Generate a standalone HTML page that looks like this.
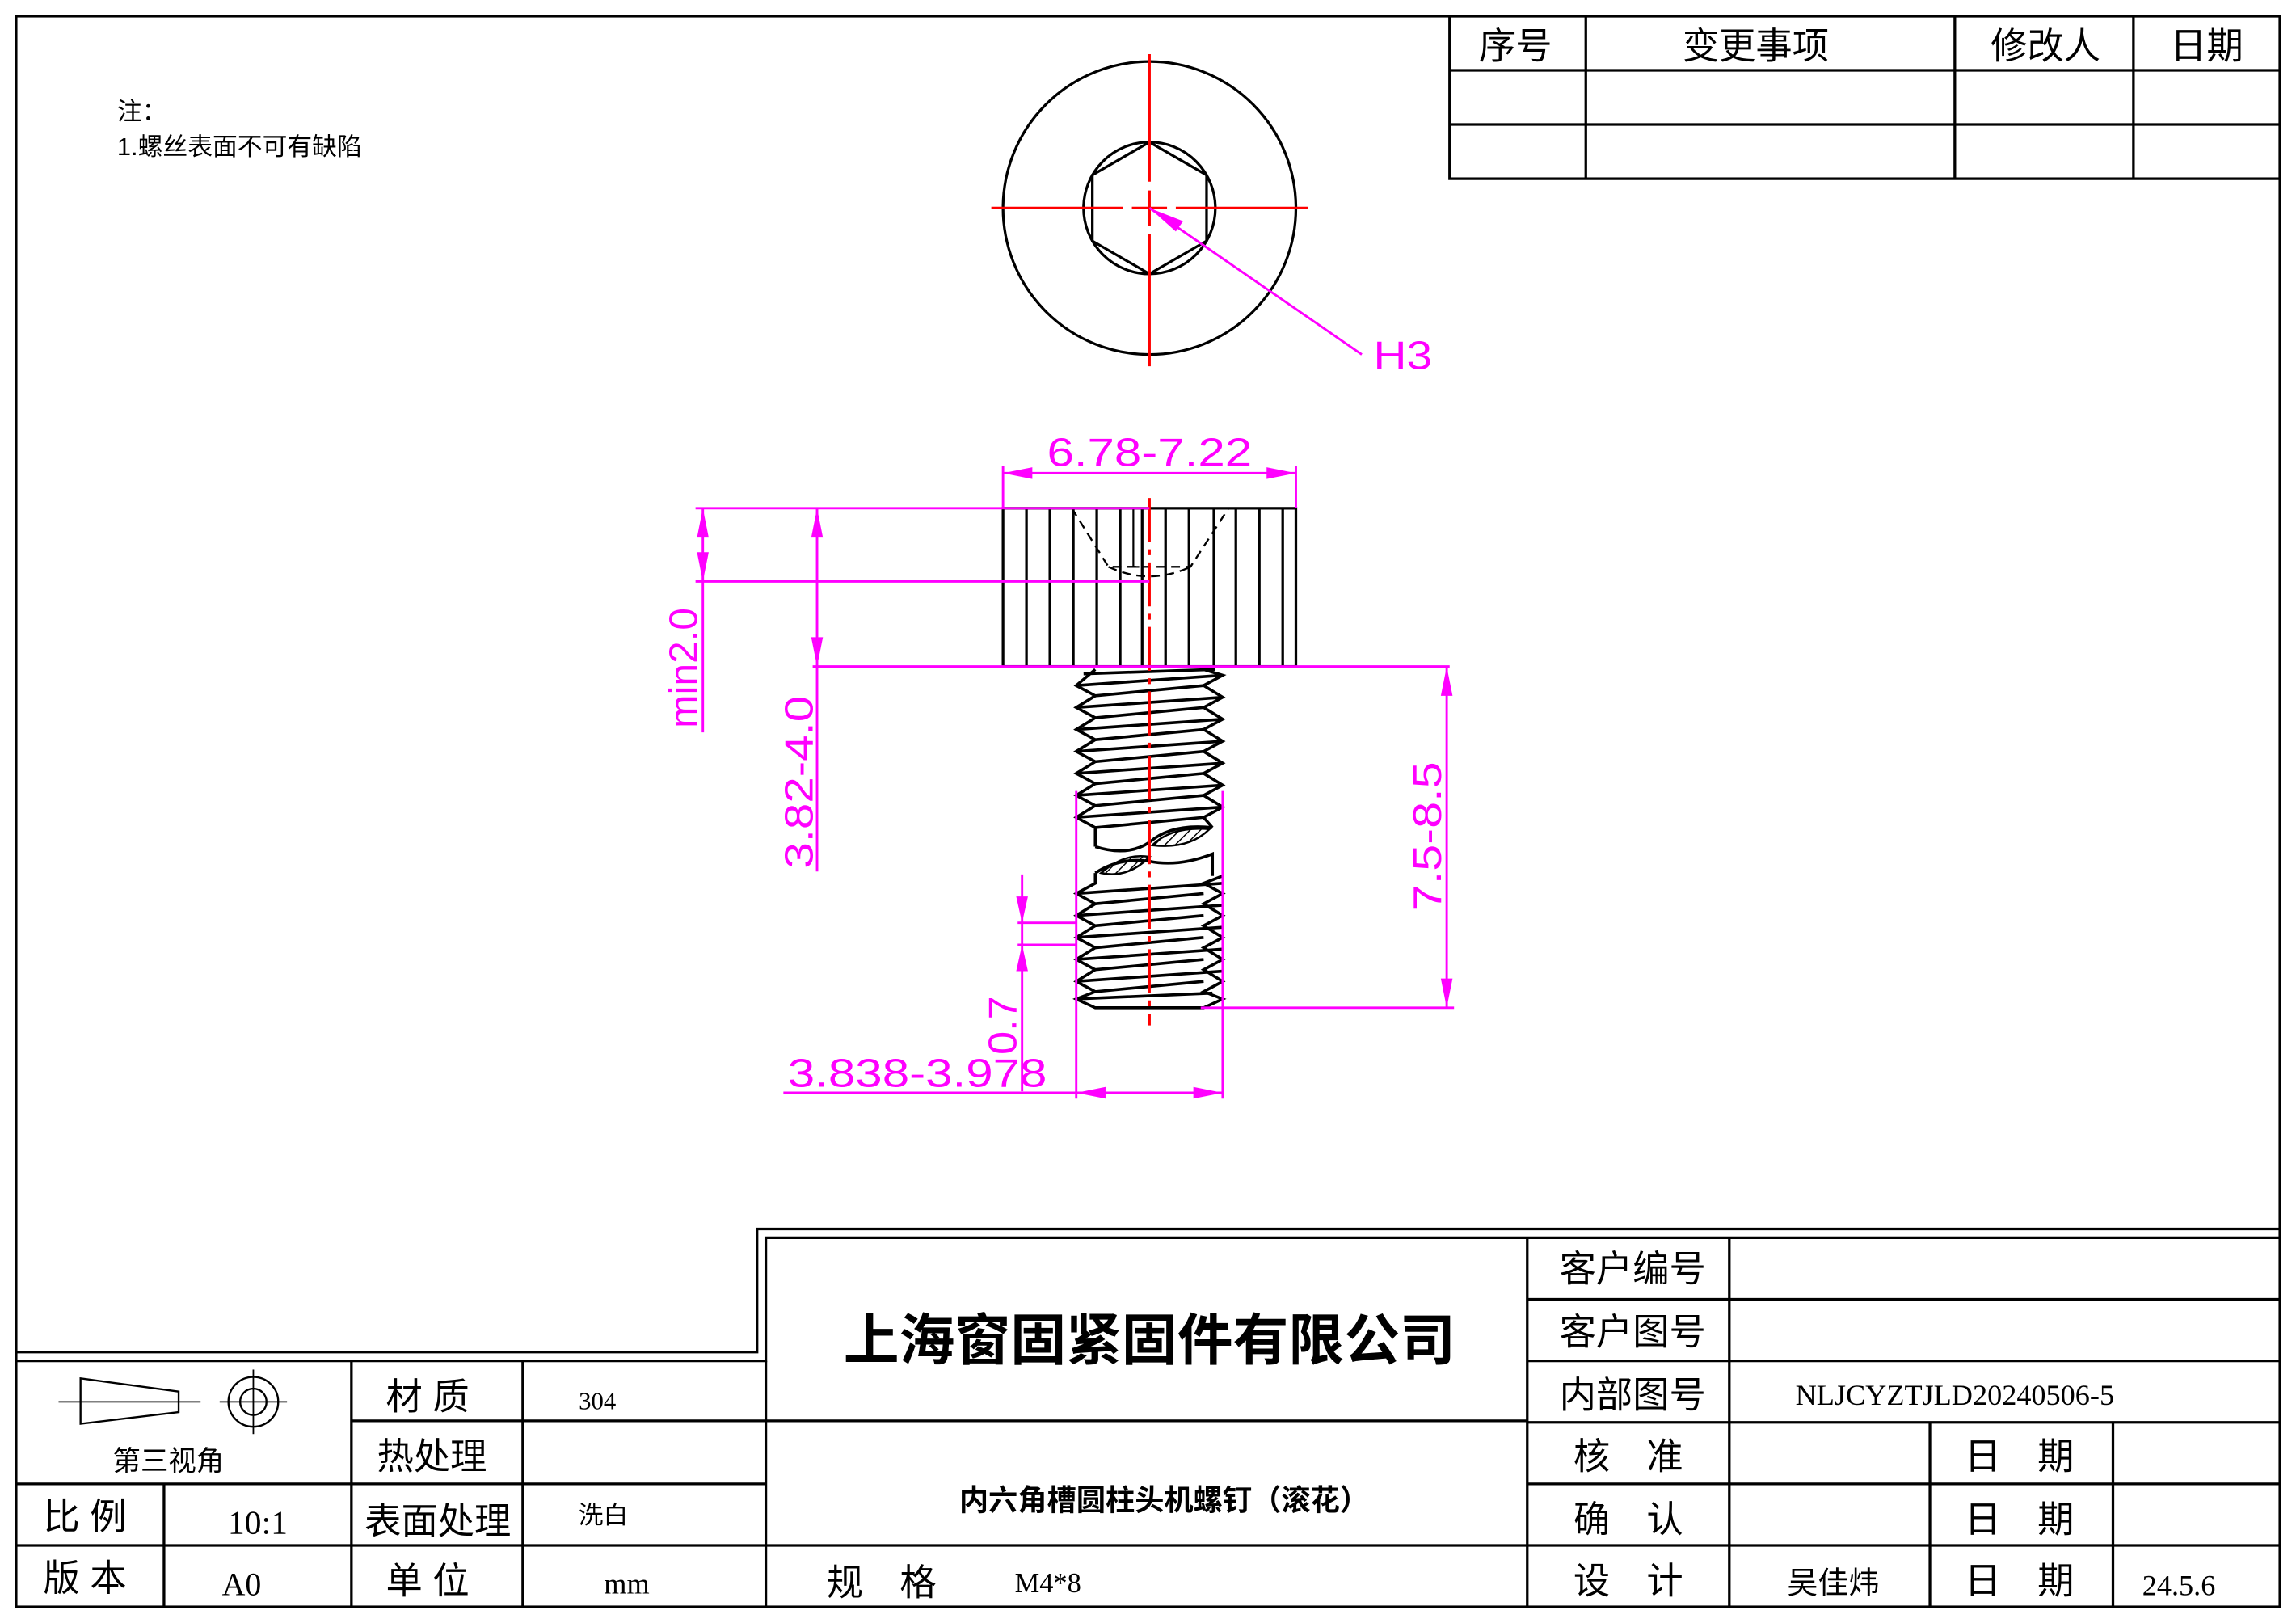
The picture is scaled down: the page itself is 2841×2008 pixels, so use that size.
<!DOCTYPE html>
<html><head><meta charset="utf-8"><style>
html,body{margin:0;padding:0;background:#fff;}
svg{display:block;}
.c{font-family:"Liberation Sans","Noto Sans CJK SC",sans-serif;}
.s{font-family:"Liberation Serif","Noto Serif CJK SC",serif;}
.m{font-family:"Liberation Sans",sans-serif;fill:#f0f;}
</style></head><body>
<svg width="2841" height="2008" viewBox="0 0 1568 1108" preserveAspectRatio="none" xmlns="http://www.w3.org/2000/svg">
<defs>
<pattern id="h" width="5" height="5" patternUnits="userSpaceOnUse" patternTransform="rotate(45)"><line x1="0" y1="0" x2="0" y2="5" stroke="#000" stroke-width="1.6"/></pattern>
</defs>
<rect x="0" y="0" width="1568" height="1108" fill="#fff"/>
<g fill="none" stroke="#000" stroke-width="1.8">
<rect x="11" y="11" width="1546" height="1086"/>
<rect x="990" y="11" width="567" height="111"/>
<line x1="990" y1="48" x2="1557" y2="48"/><line x1="990" y1="85" x2="1557" y2="85"/>
<line x1="1083" y1="11" x2="1083" y2="122"/><line x1="1335" y1="11" x2="1335" y2="122"/><line x1="1457" y1="11" x2="1457" y2="122"/>
<polyline points="11,923 517,923 517,839 1557,839"/>
<polyline points="11,929 523,929 523,845 1557,845"/>
<line x1="11" y1="1013" x2="523" y2="1013"/><line x1="11" y1="1055" x2="1557" y2="1055"/>
<line x1="240" y1="970" x2="1043" y2="970"/>
<line x1="112" y1="1013" x2="112" y2="1097"/><line x1="240" y1="929" x2="240" y2="1097"/><line x1="357" y1="929" x2="357" y2="1097"/>
<line x1="523" y1="929" x2="523" y2="1097"/>
<line x1="1043" y1="845" x2="1043" y2="1097"/><line x1="1181" y1="845" x2="1181" y2="1097"/>
<line x1="1043" y1="887" x2="1557" y2="887"/><line x1="1043" y1="929" x2="1557" y2="929"/><line x1="1043" y1="971" x2="1557" y2="971"/><line x1="1043" y1="1013" x2="1557" y2="1013"/>
<line x1="1318" y1="971" x2="1318" y2="1097"/><line x1="1443" y1="971" x2="1443" y2="1097"/>
<polygon points="55,941 122,950 122,964 55,972" stroke-width="1.3"/>
<line x1="40" y1="957" x2="137" y2="957" stroke-width="1"/>
<circle cx="173" cy="957" r="17" stroke-width="1.3"/><circle cx="173" cy="957" r="9" stroke-width="1.3"/>
<line x1="150" y1="957" x2="196" y2="957" stroke-width="1"/><line x1="173" y1="935" x2="173" y2="979" stroke-width="1"/>
<circle cx="785" cy="142" r="100"/>
<circle cx="785" cy="142" r="45"/>
<polygon points="785,97 824,119.5 824,164.5 785,187 746,164.5 746,119.5"/>
<rect x="685" y="347" width="200" height="108"/>
<path d="M701,347V455M717,347V455M733,347V455M749,347V455M765,347V455M780,347V455M796,347V455M812,347V455M829,347V455M844,347V455M860,347V455M876,347V455"/>
<path d="M774,347V387M770,387H778" stroke-width="1.2"/>
<path d="M732,347L757,387H813L839,347M757,387Q785,400 813,387" stroke-dasharray="6,4" stroke-width="1.3"/>
<g stroke-width="2">
<path d="M748,457L735,468L748,475L735,483L748,490L735,498L748,505L735,513L748,520L735,528L748,535L735,543L748,550L735,558L748,565V578"/>
<path d="M822,457L835,461L822,468L835,476L822,483L835,491L822,498L835,506L822,513L835,521L822,528L835,536L822,543L835,551L822,558L828,565"/>
<path d="M735,468L835,461M748,475L822,468M735,483L835,476M748,490L822,483M735,498L835,491M748,505L822,498M735,513L835,506M748,520L822,513M735,528L835,521M748,535L822,528M735,543L835,536M748,550L822,543M735,558L835,551M748,565L822,558M740,460L830,457"/>
<path d="M748,578Q770,585 785,575Q800,562 828,565"/>
<path d="M748,596Q765,585 785,588Q805,592 828,583V598"/>
<path d="M748,596V603L735,610L748,617L735,625L748,632L735,640L748,647L735,655L748,662L735,670L748,677L735,682L748,688H822L835,682L822,677L835,670L822,662L835,655L822,647L835,640L822,632L835,625L822,617L835,610L822,603L835,598"/>
<path d="M735,610L835,603M748,617L822,610M735,625L835,618M748,632L822,625M735,640L835,633M748,647L822,640M735,655L835,648M748,662L822,655M735,670L835,663M748,677L822,670M735,682L828,678"/>
</g>
</g>
<path d="M752,596Q768,582 785,585Q770,600 752,596Z" fill="url(#h)" stroke="#000" stroke-width="1.4"/>
<path d="M787,577Q800,564 826,566Q812,580 787,577Z" fill="url(#h)" stroke="#000" stroke-width="1.4"/>
<g stroke="#f00" stroke-width="1.8" fill="none">
<line x1="785" y1="37" x2="785" y2="124"/><line x1="785" y1="130" x2="785" y2="154"/><line x1="785" y1="160" x2="785" y2="250"/>
<line x1="677" y1="142" x2="767" y2="142"/><line x1="773" y1="142" x2="797" y2="142"/><line x1="803" y1="142" x2="893" y2="142"/>
<path d="M785,340V700" stroke-dasharray="30,5,4,5"/>
</g>
<g stroke="#f0f" stroke-width="1.6" fill="none">
<line x1="785" y1="142" x2="930" y2="242"/>
<line x1="685" y1="318" x2="685" y2="347"/><line x1="885" y1="318" x2="885" y2="347"/>
<line x1="685" y1="323" x2="885" y2="323"/>
<line x1="475" y1="347" x2="785" y2="347"/><line x1="475" y1="397" x2="785" y2="397"/>
<line x1="480" y1="347" x2="480" y2="500"/>
<line x1="555" y1="455" x2="990" y2="455"/>
<line x1="558" y1="347" x2="558" y2="595"/>
<line x1="820" y1="688" x2="993" y2="688"/>
<line x1="988" y1="455" x2="988" y2="688"/>
<line x1="735" y1="540" x2="735" y2="750"/><line x1="835" y1="540" x2="835" y2="750"/>
<line x1="535" y1="746" x2="835" y2="746"/>
<line x1="695" y1="630" x2="735" y2="630"/><line x1="695" y1="645" x2="735" y2="645"/>
<line x1="698" y1="597" x2="698" y2="745"/>
</g>
<g fill="#f0f">
<polygon points="785,142 808,151 803,158"/>
<polygon points="685,323 705,319 705,327"/><polygon points="885,323 865,319 865,327"/>
<polygon points="480,347 476,367 484,367"/><polygon points="480,397 476,377 484,377"/>
<polygon points="558,347 554,367 562,367"/><polygon points="558,455 554,435 562,435"/>
<polygon points="988,455 984,475 992,475"/><polygon points="988,688 984,668 992,668"/>
<polygon points="735,746 755,742 755,750"/><polygon points="835,746 815,742 815,750"/>
<polygon points="698,630 694,612 702,612"/><polygon points="698,645 694,663 702,663"/>
</g>
<g class="m" font-size="27">
<text x="938" y="252" textLength="40" lengthAdjust="spacingAndGlyphs">H3</text>
<text x="715" y="318" textLength="140" lengthAdjust="spacingAndGlyphs">6.78-7.22</text>
<text x="538" y="742" textLength="177" lengthAdjust="spacingAndGlyphs">3.838-3.978</text>
<text transform="translate(476,497) rotate(-90)" textLength="82" lengthAdjust="spacingAndGlyphs">min2.0</text>
<text transform="translate(555,593) rotate(-90)" textLength="118" lengthAdjust="spacingAndGlyphs">3.82-4.0</text>
<text transform="translate(984,622) rotate(-90)" textLength="102" lengthAdjust="spacingAndGlyphs">7.5-8.5</text>
<text transform="translate(694,720) rotate(-90)" textLength="40" lengthAdjust="spacingAndGlyphs">0.7</text>
</g>
<g class="c" fill="#000">
<text x="80" y="82" font-size="17">注：</text>
<text x="80" y="106" font-size="17">1.螺丝表面不可有缺陷</text>
<g font-size="25" text-anchor="middle">
<text x="1035" y="40">序号</text><text x="1199" y="40">变更事项</text><text x="1397" y="40">修改人</text><text x="1507" y="40">日期</text>
<text x="1115" y="875">客户编号</text><text x="1115" y="918">客户图号</text><text x="1115" y="961">内部图号</text>
<text x="1112" y="1003">核　准</text><text x="1112" y="1046">确　认</text><text x="1112" y="1088">设　计</text>
<text x="1379" y="1003">日　期</text><text x="1379" y="1046">日　期</text><text x="1379" y="1088">日　期</text>
<text x="292" y="962">材 质</text><text x="295" y="1003">热处理</text><text x="299" y="1047">表面处理</text><text x="292" y="1088">单 位</text>
<text x="58" y="1044">比 例</text><text x="58" y="1086">版 本</text>
<text x="602" y="1089">规　格</text>
</g>
<text x="115" y="1004" font-size="19" text-anchor="middle">第三视角</text>
<text x="785" y="928" font-size="38" font-weight="bold" text-anchor="middle">上海窗固紧固件有限公司</text>
<text x="795" y="1031" font-size="20" font-weight="bold" text-anchor="middle">内六角槽圆柱头机螺钉（滚花）</text>
<text x="1252" y="1088" font-size="21" text-anchor="middle">吴佳炜</text>
<text x="412" y="1040" font-size="17" text-anchor="middle">洗白</text>
</g>
<g class="s" fill="#000">
<text x="408" y="962" font-size="17" text-anchor="middle">304</text>
<text x="176" y="1047" font-size="23" text-anchor="middle">10:1</text>
<text x="165" y="1089" font-size="22" text-anchor="middle">A0</text>
<text x="428" y="1088" font-size="20" text-anchor="middle">mm</text>
<text x="693" y="1087" font-size="19">M4*8</text>
<text x="1335" y="959" font-size="20" text-anchor="middle">NLJCYZTJLD20240506-5</text>
<text x="1488" y="1089" font-size="20" text-anchor="middle">24.5.6</text>
</g>
</svg>
</body></html>
